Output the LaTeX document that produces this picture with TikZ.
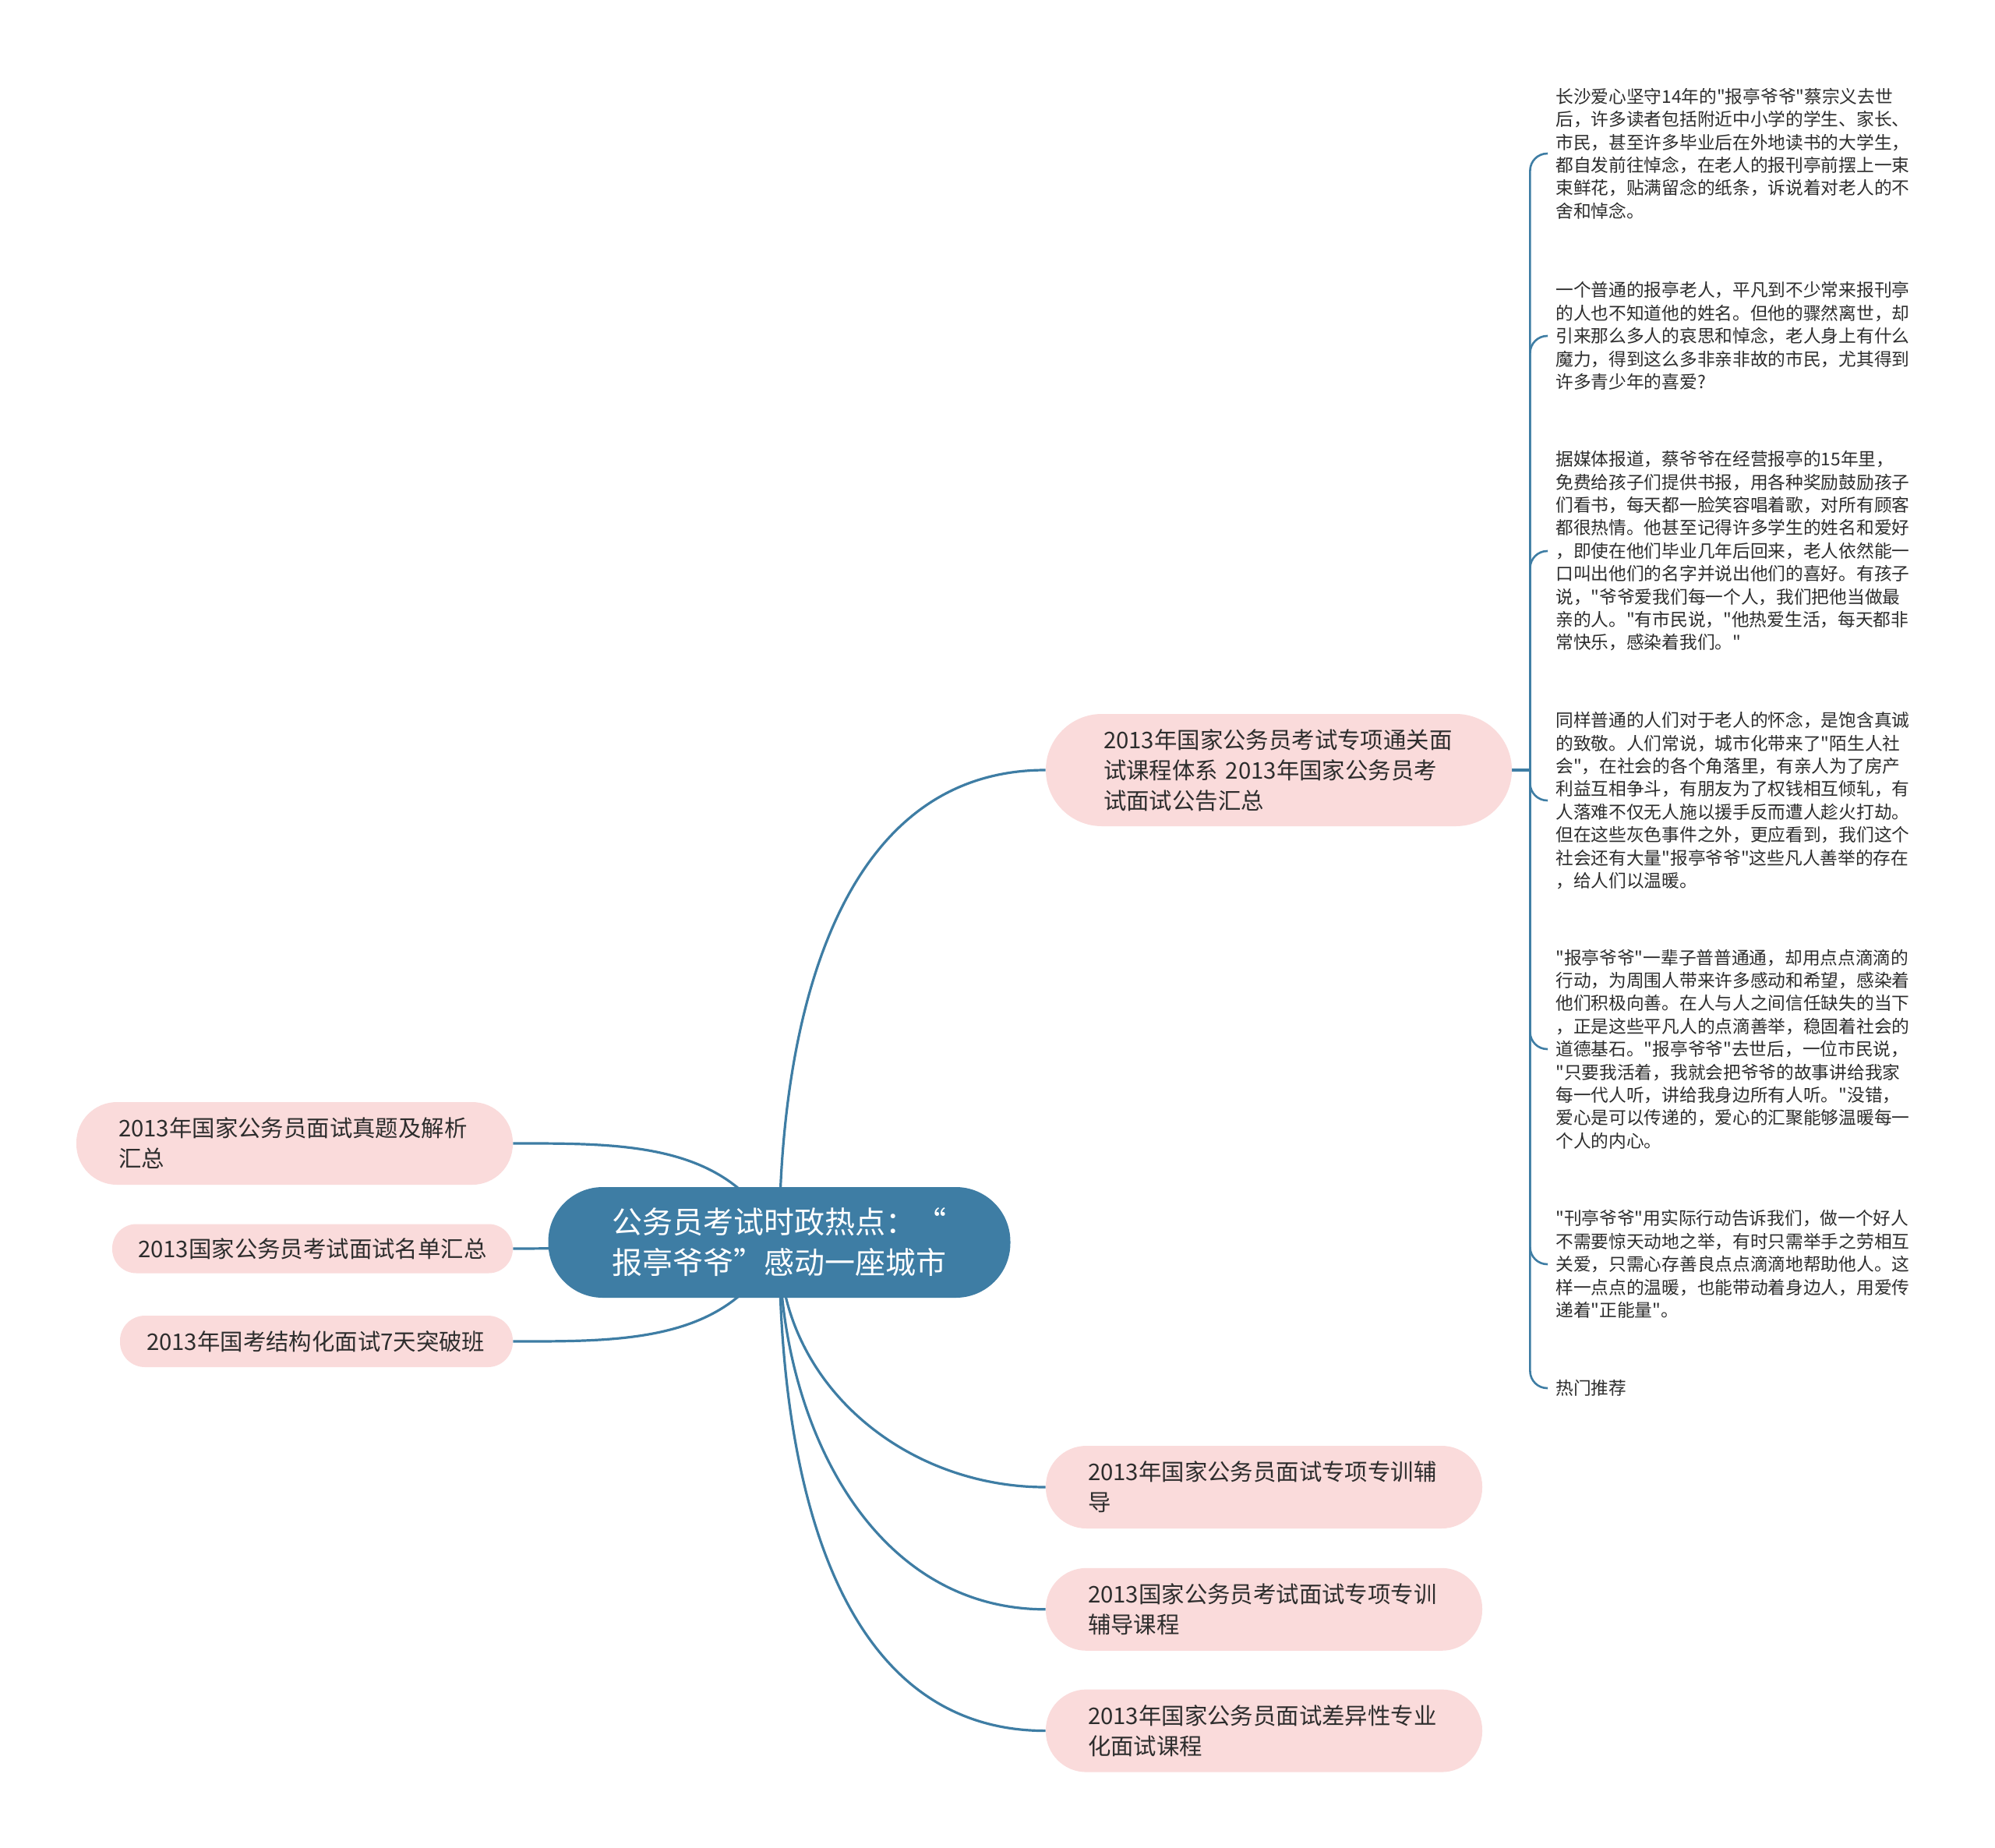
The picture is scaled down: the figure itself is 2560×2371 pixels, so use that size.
\documentclass[tikz,border=0pt]{standalone}
\usepackage{fontspec}
\newfontfamily\zh{Noto Sans CJK SC}
\usetikzlibrary{positioning,backgrounds}
\definecolor{kek}{RGB}{62,125,164}
\definecolor{rozsa}{RGB}{250,219,219}
\definecolor{szurke}{RGB}{45,45,45}
\tikzset{
  gyoker/.style={fill=kek,text=white,rounded corners=35pt,minimum height=71pt,inner xsep=41pt,
                 align=center,font=\zh\fontsize{19.5}{26}\selectfont},
  ag/.style={fill=rozsa,text=szurke,rounded corners=26pt,minimum height=53pt,inner xsep=27pt,
             text width=226pt,align=left,font=\zh\fontsize{14.7}{19.5}\selectfont},
  szoveg/.style={anchor=west,inner xsep=5pt,inner ysep=0pt,align=left,text=szurke,
                 font=\zh\fontsize{11.35}{14.7}\selectfont},
  vonal/.style={draw=kek,line width=1.6pt},
  kvonal/.style={draw=kek,line width=1.3pt,rounded corners=11pt},
}
\begin{document}
\begin{tikzpicture}[x=0.5pt,y=0.5pt]
  \useasboundingbox (0,0) rectangle (2560,-2371);
  \node[gyoker] (gy) at (1000,-1594) {公务员考试时政热点：“\\报亭爷爷”感动一座城市};

  \node[ag,text width=225pt,inner xsep=37pt,minimum height=72pt,rounded corners=36pt] (a1) at (1641,-988)
    {2013年国家公务员考试专项通关面\\试课程体系 2013年国家公务员考\\试面试公告汇总};
  \node[ag] (a2) at (1622,-1908) {2013年国家公务员面试专项专训辅\\导};
  \node[ag,below=25pt of a2] (a3) {2013国家公务员考试面试专项专训\\辅导课程};
  \node[ag,below=24.5pt of a3] (a4) {2013年国家公务员面试差异性专业\\化面试课程};

  \node[ag] (b1) at (378,-1467) {2013年国家公务员面试真题及解析\\汇总};
  \node[ag,text width=224pt,inner xsep=16.5pt,minimum height=31.5pt,rounded corners=15.5pt] (b2) at (401,-1602)
    {2013国家公务员考试面试名单汇总};
  \node[ag,text width=218pt,inner xsep=17pt,minimum height=33pt,rounded corners=16pt] (b3) at (406,-1721)
    {2013年国考结构化面试7天突破班};

  \node[szoveg] (t1) at (1986,-197) {长沙爱心坚守14年的"报亭爷爷"蔡宗义去世\\后，许多读者包括附近中小学的学生、家长、\\市民，甚至许多毕业后在外地读书的大学生，\\都自发前往悼念，在老人的报刊亭前摆上一束\\束鲜花，贴满留念的纸条，诉说着对老人的不\\舍和悼念。};
  \node[szoveg] (t2) at (1986,-431) {一个普通的报亭老人，平凡到不少常来报刊亭\\的人也不知道他的姓名。但他的骤然离世，却\\引来那么多人的哀思和悼念，老人身上有什么\\魔力，得到这么多非亲非故的市民，尤其得到\\许多青少年的喜爱?};
  \node[szoveg] (t3) at (1986,-707) {据媒体报道，蔡爷爷在经营报亭的15年里，\\免费给孩子们提供书报，用各种奖励鼓励孩子\\们看书，每天都一脸笑容唱着歌，对所有顾客\\都很热情。他甚至记得许多学生的姓名和爱好\\，即使在他们毕业几年后回来，老人依然能一\\口叫出他们的名字并说出他们的喜好。有孩子\\说，"爷爷爱我们每一个人，我们把他当做最\\亲的人。"有市民说，"他热爱生活，每天都非\\常快乐，感染着我们。"};
  \node[szoveg] (t4) at (1986,-1027) {同样普通的人们对于老人的怀念，是饱含真诚\\的致敬。人们常说，城市化带来了"陌生人社\\会"，在社会的各个角落里，有亲人为了房产\\利益互相争斗，有朋友为了权钱相互倾轧，有\\人落难不仅无人施以援手反而遭人趁火打劫。\\但在这些灰色事件之外，更应看到，我们这个\\社会还有大量"报亭爷爷"这些凡人善举的存在\\，给人们以温暖。};
  \node[szoveg] (t5) at (1986,-1346) {"报亭爷爷"一辈子普普通通，却用点点滴滴的\\行动，为周围人带来许多感动和希望，感染着\\他们积极向善。在人与人之间信任缺失的当下\\，正是这些平凡人的点滴善举，稳固着社会的\\道德基石。"报亭爷爷"去世后，一位市民说，\\"只要我活着，我就会把爷爷的故事讲给我家\\每一代人听，讲给我身边所有人听。"没错，\\爱心是可以传递的，爱心的汇聚能够温暖每一\\个人的内心。};
  \node[szoveg] (t6) at (1986,-1622) {"刊亭爷爷"用实际行动告诉我们，做一个好人\\不需要惊天动地之举，有时只需举手之劳相互\\关爱，只需心存善良点点滴滴地帮助他人。这\\样一点点的温暖，也能带动着身边人，用爱传\\递着"正能量"。};
  \node[szoveg] (t7) at (1986,-1781) {热门推荐};

  \coordinate[right=11.5pt of a1.east] (csp);
  \begin{scope}[on background layer]
    \fill[white] (0,0) rectangle (2560,-2371);
    \draw[vonal] (gy.center) to[out=90,in=180] (a1.west);
    \draw[vonal] (gy.center) to[out=-90,in=180] (a2.west);
    \draw[vonal] (gy.center) to[out=-90,in=180] (a3.west);
    \draw[vonal] (gy.center) to[out=-90,in=180] (a4.west);
    \draw[vonal] (gy.center) to[out=115,in=0] (b1.east);
    \draw[vonal] (gy.center) to[out=180,in=0] (b2.east);
    \draw[vonal] (gy.center) to[out=245,in=0] (b3.east);
    \draw[vonal] (a1.east) -- (csp);
    \foreach \t in {t1,t2,t3,t4,t5,t6,t7}
      \draw[kvonal] (csp) |- (\t.west);
  \end{scope}
\end{tikzpicture}
\end{document}
